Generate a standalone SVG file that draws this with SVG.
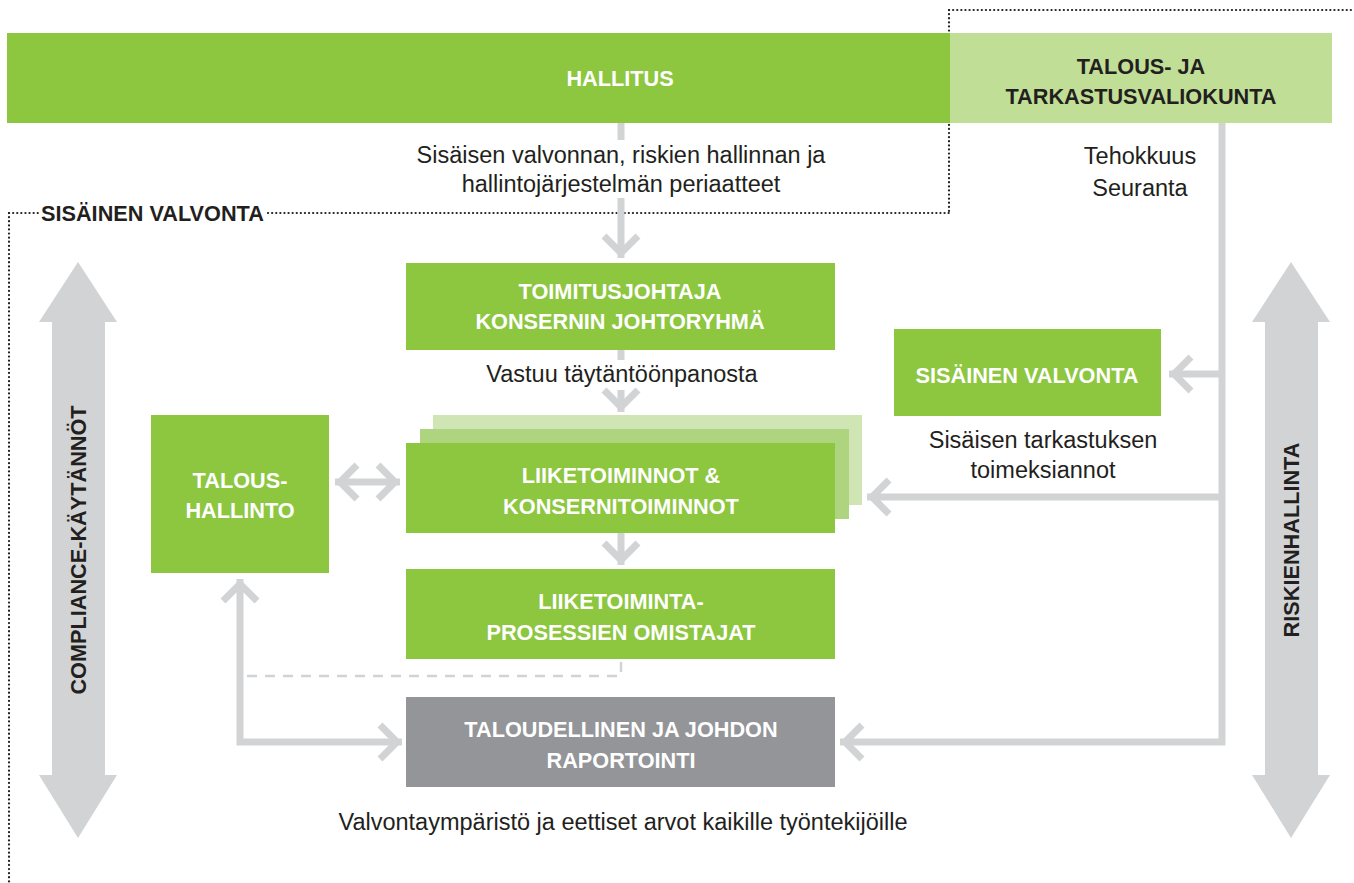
<svg xmlns="http://www.w3.org/2000/svg" width="1354" height="883" viewBox="0 0 1354 883">
<style>
.g{fill:#8dc63f}
.lt{fill:#c1de96}
.hb{font-family:"Liberation Sans",Arial,sans-serif;font-weight:bold;font-size:21.7px;text-anchor:middle}
.w{fill:#ffffff}
.d{fill:#231f20}
.t{font-family:"Liberation Sans",Arial,sans-serif;font-size:23.5px;text-anchor:middle;fill:#231f20}
.c{fill:none;stroke:#d1d3d4;stroke-width:7}
.dot{fill:none;stroke:#231f20;stroke-width:2.2;stroke-dasharray:0.1 4;stroke-linecap:round}
</style>
<defs>
<marker id="chev" viewBox="-26 -22 30 44" refX="0" refY="0" markerWidth="30" markerHeight="44" orient="auto-start-reverse" markerUnits="userSpaceOnUse">
<path d="M-22,-17 L-5,0 L-22,17" fill="none" stroke="#d1d3d4" stroke-width="7"/>
</marker>
</defs>
<rect width="1354" height="883" fill="#ffffff"/>

<g id="dotted-frame">
<path class="dot" d="M949,10 H1354"/>
<path class="dot" d="M949,10 V213"/>
<path class="dot" d="M268,213 H949"/>
<path class="dot" d="M9,213 H39"/>
<path class="dot" d="M9,213 V883"/>
<text x="41" y="221" class="hb d" style="text-anchor:start">SISÄINEN VALVONTA</text>
</g>

<g id="big-arrows">
<polygon fill="#d1d3d4" points="78,262 117,322 105,322 105,775 117,775 78,838 39,775 52,775 52,322 39,322"/>
<polygon fill="#d1d3d4" points="1291,262 1330,322 1318,322 1318,775 1330,775 1291,838 1252,775 1265,775 1265,322 1252,322"/>
<text class="hb d" transform="translate(86,550) rotate(-90)">COMPLIANCE-KÄYTÄNNÖT</text>
<text class="hb d" transform="translate(1299,540) rotate(-90)">RISKIENHALLINTA</text>
</g>

<g id="connectors">
<path class="c" d="M621,123 V140"/>
<path class="c" d="M621,198 V258" marker-end="url(#chev)"/>
<path class="c" d="M621,350 V360"/>
<path class="c" d="M621,390 V412" marker-end="url(#chev)"/>
<path class="c" d="M621,533 V565" marker-end="url(#chev)"/>
<path class="c" d="M1222,123 V742 H840" marker-end="url(#chev)"/>
<path class="c" d="M1222,374 H1169" marker-end="url(#chev)"/>
<path class="c" d="M1222,497 H867" marker-end="url(#chev)"/>
<path class="c" d="M335,482 H400" marker-start="url(#chev)" marker-end="url(#chev)"/>
<path class="c" d="M240,579 V742 H402" marker-start="url(#chev)" marker-end="url(#chev)"/>
<path d="M621,662 V676 H243" fill="none" stroke="#d1d3d4" stroke-width="2.5" stroke-dasharray="10 8"/>
</g>

<g id="hallitus">
<rect class="g" x="7" y="33" width="943" height="90"/>
<text class="hb w" x="620" y="86">HALLITUS</text>
</g>
<g id="talous-ja-tarkastusvaliokunta">
<rect class="lt" x="950" y="33" width="382" height="90"/>
<text class="hb d" x="1141" y="74">TALOUS- JA</text>
<text class="hb d" x="1141" y="104">TARKASTUSVALIOKUNTA</text>
</g>
<g id="label-periaatteet">
<text class="t" x="621" y="163">Sisäisen valvonnan, riskien hallinnan ja</text>
<text class="t" x="621" y="192">hallintojärjestelmän periaatteet</text>
</g>
<g id="label-tehokkuus">
<text class="t" x="1140" y="164">Tehokkuus</text>
<text class="t" x="1140" y="196">Seuranta</text>
</g>
<g id="toimitusjohtaja">
<rect class="g" x="406" y="263" width="429" height="87"/>
<text class="hb w" x="620" y="299">TOIMITUSJOHTAJA</text>
<text class="hb w" x="620" y="329">KONSERNIN JOHTORYHMÄ</text>
</g>
<g id="label-vastuu">
<text class="t" x="622" y="382">Vastuu täytäntöönpanosta</text>
</g>
<g id="sisainen-valvonta">
<rect class="g" x="894" y="329" width="267" height="87"/>
<text class="hb w" x="1027" y="383">SISÄINEN VALVONTA</text>
</g>
<g id="label-toimeksiannot">
<text class="t" x="1043" y="448">Sisäisen tarkastuksen</text>
<text class="t" x="1043" y="478">toimeksiannot</text>
</g>
<g id="liiketoiminnot">
<rect x="433" y="415" width="429" height="90" fill="#d0e5b4"/>
<rect x="420" y="429" width="429" height="90" fill="#afd47f"/>
<rect class="g" x="406" y="443" width="429" height="90"/>
<text class="hb w" x="621" y="483">LIIKETOIMINNOT &amp;</text>
<text class="hb w" x="621" y="514">KONSERNITOIMINNOT</text>
</g>
<g id="taloushallinto">
<rect class="g" x="151" y="415" width="178" height="158"/>
<text class="hb w" x="240" y="488">TALOUS-</text>
<text class="hb w" x="240" y="518">HALLINTO</text>
</g>
<g id="liiketoimintaprosessien-omistajat">
<rect class="g" x="406" y="569" width="429" height="90"/>
<text class="hb w" x="621" y="609">LIIKETOIMINTA-</text>
<text class="hb w" x="621" y="640">PROSESSIEN OMISTAJAT</text>
</g>
<g id="raportointi">
<rect x="406" y="697" width="429" height="90" fill="#939598"/>
<text class="hb w" x="621" y="737">TALOUDELLINEN JA JOHDON</text>
<text class="hb w" x="621" y="768">RAPORTOINTI</text>
</g>
<g id="label-valvontaymparisto">
<text class="t" x="623" y="830">Valvontaympäristö ja eettiset arvot kaikille työntekijöille</text>
</g>
</svg>
